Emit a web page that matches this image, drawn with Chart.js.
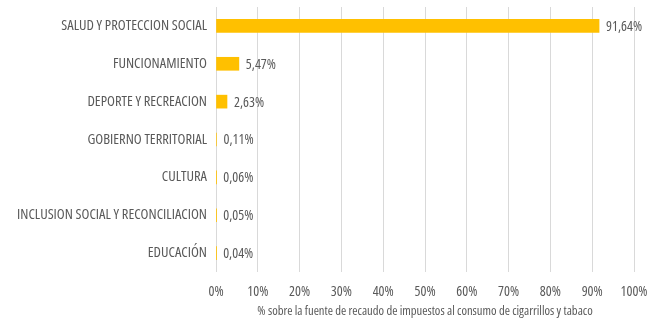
<!DOCTYPE html>
<html>
<head>
<meta charset="utf-8">
<script src="https://cdn.jsdelivr.net/npm/chart.js@4/dist/chart.umd.min.js"></script>
<style>
  html, body { margin: 0; padding: 0; background: #fff; }
  #wrap { width: 655px; height: 319px; }
</style>
</head>
<body>
<div id="wrap"><canvas id="chart"></canvas></div>
<script>
// Sectores y porcentaje del recaudo
const sectors = [
  "SALUD Y PROTECCION SOCIAL",
  "FUNCIONAMIENTO",
  "DEPORTE Y RECREACION",
  "GOBIERNO TERRITORIAL",
  "CULTURA",
  "INCLUSION SOCIAL Y RECONCILIACION",
  "EDUCACIÓN",
];
const shares = [91.64, 5.47, 2.63, 0.11, 0.06, 0.05, 0.04];
const xTicks = [0, 10, 20, 30, 40, 50, 60, 70, 80, 90, 100];

const FAMILY = "'Open Sans', sans-serif";
const STRETCH = "semi-condensed"; // narrow look of the original
const GREY = "#595959";

// Percent labels at the end of each bar
const barLabels = {
  id: "barLabels",
  afterDatasetsDraw(chart) {
    const ctx = chart.ctx;
    const meta = chart.getDatasetMeta(0);
    ctx.save();
    ctx.font = STRETCH + " 14px " + FAMILY;
    ctx.fillStyle = GREY;
    ctx.textAlign = "left";
    ctx.textBaseline = "middle";
    meta.data.forEach((bar, i) => {
      const txt = shares[i].toFixed(2).replace(".", ",") + "%";
      ctx.fillText(txt, bar.x + 7, bar.y + 1);
    });
    ctx.restore();
  },
};

const ctx = document.getElementById("chart").getContext("2d");
new Chart(ctx, {
  type: "bar",
  data: {
    labels: sectors,
    datasets: [
      {
        data: shares,
        backgroundColor: "#FFC000",
        borderWidth: 0,
        barThickness: 13,
      },
    ],
  },
  options: {
    indexAxis: "y",
    responsive: true,
    maintainAspectRatio: false,
    animation: false,
    layout: { padding: { top: 7, right: 21, left: 0, bottom: 0 } },
    plugins: {
      legend: { display: false },
      tooltip: { enabled: false },
    },
    scales: {
      x: {
        min: 0,
        max: 100,
        afterBuildTicks: (s) => { s.ticks = xTicks.map((v) => ({ value: v })); },
        afterFit: (s) => {
          s.height = 47;
          s.paddingLeft = 0;
          s.paddingRight = 0;
        },
        grid: { color: "#d9d9d9", drawTicks: false, lineWidth: 1 },
        border: { display: false },
        ticks: {
          color: GREY,
          font: { family: FAMILY, size: 14, weight: STRETCH },
          padding: 12,
          maxRotation: 0,
          callback: (v) => v + "%",
        },
        title: {
          display: true,
          text: "% sobre la fuente de recaudo de impuestos al consumo de cigarrillos y tabaco",
          color: GREY,
          font: { family: FAMILY, size: 12.6, weight: STRETCH },
          padding: { top: 3, bottom: 0 },
        },
      },
      y: {
        grid: { display: false, drawTicks: false },
        border: { display: false },
        afterFit: (s) => {
          s.width = 216;
          s.paddingTop = 0;
          s.paddingBottom = 0;
        },
        ticks: {
          color: GREY,
          font: { family: FAMILY, size: 14.5, weight: STRETCH },
          padding: 9,
        },
      },
    },
  },
  plugins: [barLabels],
});
</script>
</body>
</html>
